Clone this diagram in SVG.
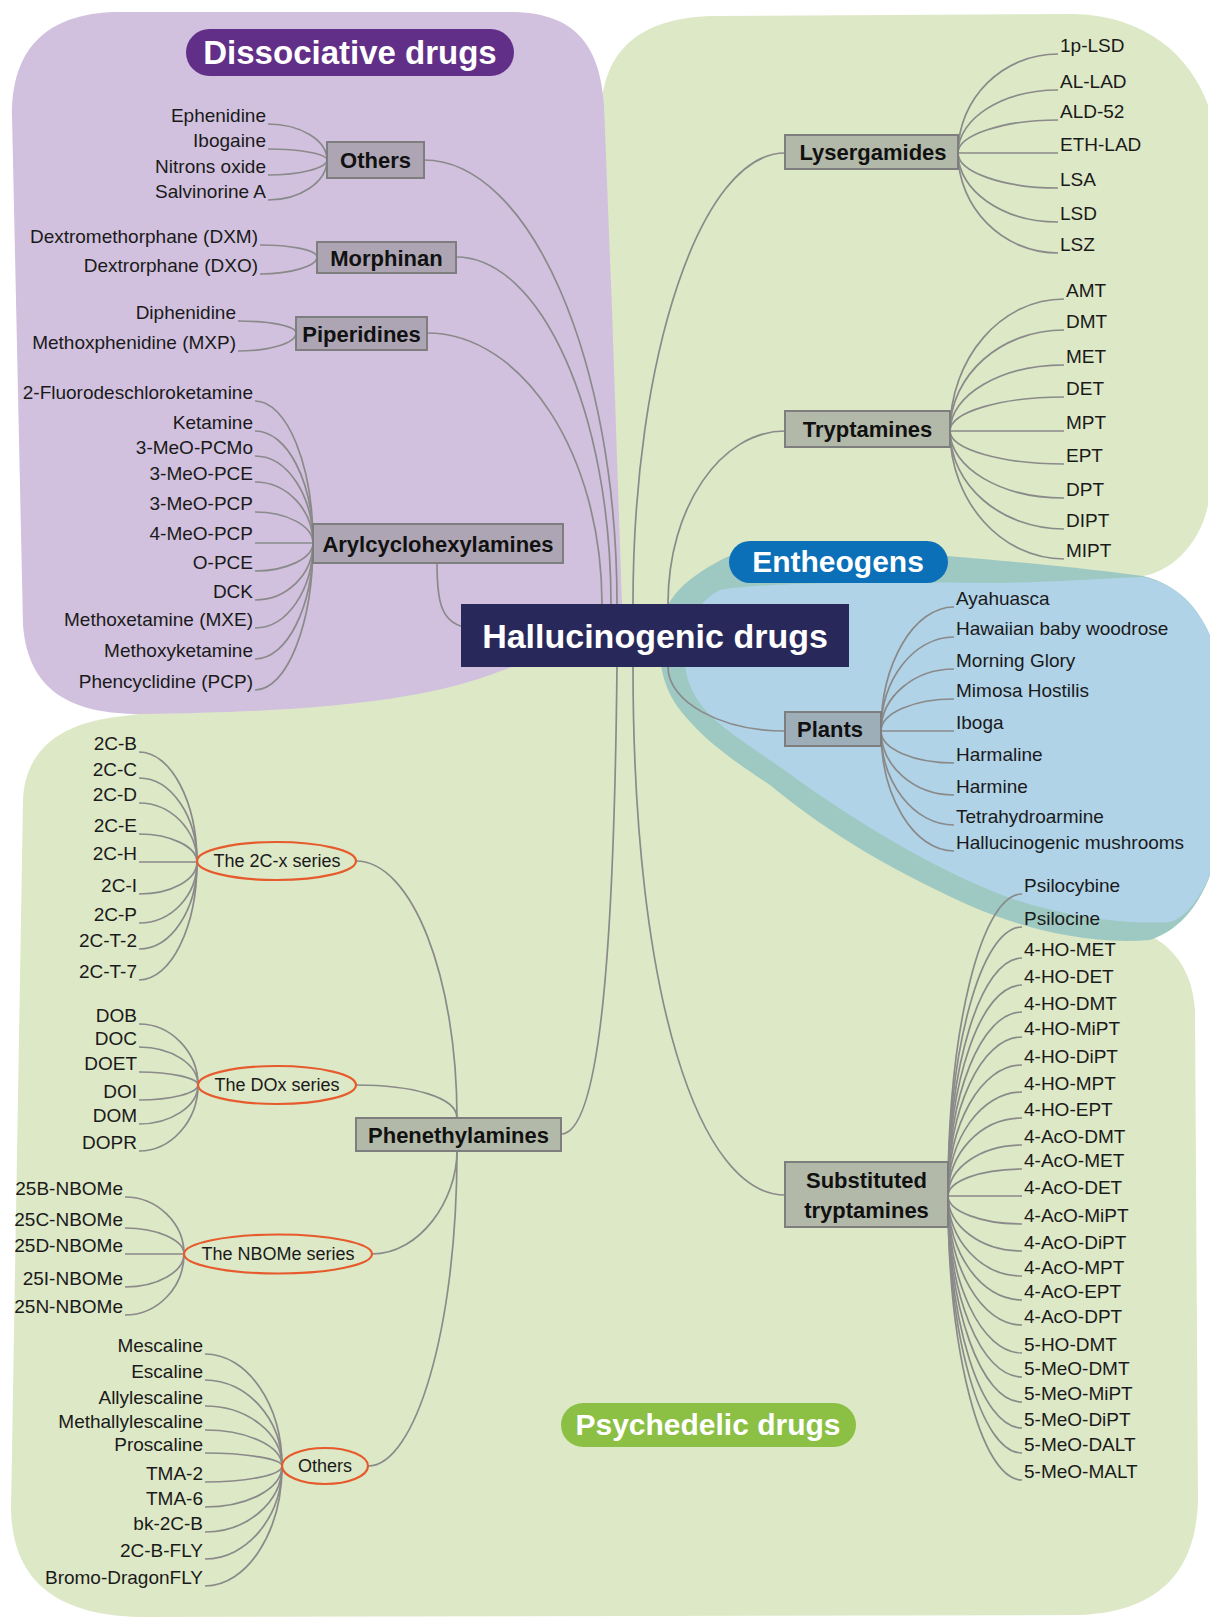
<svg xmlns="http://www.w3.org/2000/svg" width="1210" height="1619" viewBox="0 0 1210 1619">
<style>
.leaf{font-family:"Liberation Sans",Arial,sans-serif;font-size:19px;fill:#1a1a1a}
.end{text-anchor:end}
.cat{font-family:"Liberation Sans",Arial,sans-serif;font-size:22px;font-weight:bold;fill:#111;text-anchor:middle}
.sub{font-family:"Liberation Sans",Arial,sans-serif;font-size:18px;fill:#1a1a1a;text-anchor:middle}
.pill{font-family:"Liberation Sans",Arial,sans-serif;font-weight:bold;fill:#fff;text-anchor:middle}
.conn path{fill:none;stroke:#8a8a8a;stroke-width:1.7}
.box{fill:#8a8a8a;fill-opacity:0.5;stroke:#7e7e7e;stroke-width:2}
.ell{fill:none;stroke:#e65a2c;stroke-width:2.2}
</style>
<rect width="1210" height="1619" fill="#ffffff"/>
<g id="regions">
<path d="M601,118 C601,50 640,18 712,16 L1075,14 C1145,16 1190,55 1208,105 L1208,505 C1200,545 1170,572 1143,576 L1000,590 L1110,925 C1170,930 1193,970 1195,1010 L1198,1500 C1196,1580 1150,1612 1080,1615 L140,1617 C55,1615 13,1580 11,1510 L23,800 C25,750 60,722 124,716 L200,706 L400,680 L601,560 Z" fill="#dde8c6"/>
<path d="M12,115 C12,50 45,14 115,12 L515,12 C575,14 600,45 604,105 L612,310 L622,604 C590,640 545,655 490,675 C420,700 320,712 140,714 C70,714 28,690 23,625 Z" fill="#d1c1de"/>
<path d="M729,556 L948,556 C990,560 1060,565 1143,576 C1180,585 1200,610 1212,640 L1212,870 C1200,905 1180,930 1150,940 C1090,945 1030,930 980,910 C900,875 830,835 770,785 C720,752 700,735 680,710 C660,685 656,650 662,620 C668,595 690,575 729,556 Z" fill="#9ec9c2"/>
<path d="M720,590 C760,582 900,582 1000,583 C1060,582 1110,578 1143,577 C1180,585 1200,610 1212,640 L1212,870 C1200,900 1185,918 1170,922 C1120,925 1060,915 1010,898 C940,872 870,830 805,785 C760,752 730,735 710,715 C690,695 683,672 685,650 C688,620 700,600 720,590 Z" fill="#b0d3e8"/>
</g>
<g id="connectors" class="conn">
<path d="M424,160 C530,160 617,360 617,604"/>
<path d="M456,257 C541,257 611,413 611,604"/>
<path d="M427,333 C523,333 602,455 602,604"/>
<path d="M437,563 C437,600 440,625 470,628"/>
<path d="M633,604 C633,356 701,153 785,153"/>
<path d="M668,604 C668,507 721,431 785,431"/>
<path d="M668,667 C668,702 721,731 785,731"/>
<path d="M633,667 C633,1000 700,1195 785,1195"/>
<path d="M617,667 C614,950 600,1134 561,1134"/>
<path d="M356,861 C412,861 457,977 457,1118"/>
<path d="M356,1085 C412,1085 457,1097 457,1118"/>
<path d="M372,1254 C420,1254 457,1200 457,1151"/>
<path d="M368,1466 C415,1466 457,1330 457,1151"/>
<path d="M268,124 C300,124 327,140 327,160"/>
<path d="M268,149 C300,149 327,154 327,160"/>
<path d="M268,175 C300,175 327,168 327,160"/>
<path d="M268,200 C300,200 327,182 327,160"/>
<path d="M260,245 C291,245 317,250 317,257"/>
<path d="M260,274 C291,274 317,266 317,257"/>
<path d="M238,321 C270,321 296,326 296,333"/>
<path d="M238,351 C270,351 296,343 296,333"/>
<path d="M255,401 C287,401 313,465 313,543"/>
<path d="M255,431 C287,431 313,481 313,543"/>
<path d="M255,456 C287,456 313,495 313,543"/>
<path d="M255,482 C287,482 313,510 313,543"/>
<path d="M255,512 C287,512 313,526 313,543"/>
<path d="M255,543 L313,543"/>
<path d="M255,571 C287,571 313,558 313,543"/>
<path d="M255,600 C287,600 313,574 313,543"/>
<path d="M255,628 C287,628 313,590 313,543"/>
<path d="M255,659 C287,659 313,607 313,543"/>
<path d="M255,690 C287,690 313,624 313,543"/>
<path d="M958,153 C958,98 1003,54 1058,54"/>
<path d="M958,153 C958,118 1003,90 1058,90"/>
<path d="M958,153 C958,135 1003,120 1058,120"/>
<path d="M958,153 L1058,153"/>
<path d="M958,153 C958,172 1003,188 1058,188"/>
<path d="M958,153 C958,191 1003,222 1058,222"/>
<path d="M958,153 C958,208 1003,253 1058,253"/>
<path d="M950,431 C950,358 1001,299 1064,299"/>
<path d="M950,431 C950,375 1001,330 1064,330"/>
<path d="M950,431 C950,395 1001,365 1064,365"/>
<path d="M950,431 C950,412 1001,397 1064,397"/>
<path d="M950,431 L1064,431"/>
<path d="M950,431 C950,449 1001,464 1064,464"/>
<path d="M950,431 C950,468 1001,498 1064,498"/>
<path d="M950,431 C950,485 1001,529 1064,529"/>
<path d="M950,431 C950,501 1001,559 1064,559"/>
<path d="M881,731 C881,663 914,607 954,607"/>
<path d="M881,731 C881,679 914,637 954,637"/>
<path d="M881,731 C881,697 914,669 954,669"/>
<path d="M881,731 C881,713 914,699 954,699"/>
<path d="M881,731 L954,731"/>
<path d="M881,731 C881,749 914,763 954,763"/>
<path d="M881,731 C881,766 914,795 954,795"/>
<path d="M881,731 C881,783 914,825 954,825"/>
<path d="M881,731 C881,797 914,851 954,851"/>
<path d="M948,1196 C948,1030 981,894 1022,894"/>
<path d="M948,1196 C948,1048 981,927 1022,927"/>
<path d="M948,1196 C948,1065 981,958 1022,958"/>
<path d="M948,1196 C948,1080 981,985 1022,985"/>
<path d="M948,1196 C948,1095 981,1012 1022,1012"/>
<path d="M948,1196 C948,1109 981,1037 1022,1037"/>
<path d="M948,1196 C948,1124 981,1065 1022,1065"/>
<path d="M948,1196 C948,1139 981,1092 1022,1092"/>
<path d="M948,1196 C948,1153 981,1118 1022,1118"/>
<path d="M948,1196 C948,1168 981,1145 1022,1145"/>
<path d="M948,1196 C948,1181 981,1169 1022,1169"/>
<path d="M948,1196 L1022,1196"/>
<path d="M948,1196 C948,1211 981,1224 1022,1224"/>
<path d="M948,1196 C948,1226 981,1251 1022,1251"/>
<path d="M948,1196 C948,1240 981,1276 1022,1276"/>
<path d="M948,1196 C948,1253 981,1300 1022,1300"/>
<path d="M948,1196 C948,1267 981,1325 1022,1325"/>
<path d="M948,1196 C948,1282 981,1353 1022,1353"/>
<path d="M948,1196 C948,1296 981,1377 1022,1377"/>
<path d="M948,1196 C948,1309 981,1402 1022,1402"/>
<path d="M948,1196 C948,1324 981,1428 1022,1428"/>
<path d="M948,1196 C948,1337 981,1453 1022,1453"/>
<path d="M948,1196 C948,1352 981,1480 1022,1480"/>
<path d="M139,752 C171,752 197,802 197,862"/>
<path d="M139,778 C171,778 197,816 197,862"/>
<path d="M139,803 C171,803 197,830 197,862"/>
<path d="M139,834 C171,834 197,847 197,862"/>
<path d="M139,862 L197,862"/>
<path d="M139,894 C171,894 197,880 197,862"/>
<path d="M139,923 C171,923 197,896 197,862"/>
<path d="M139,949 C171,949 197,910 197,862"/>
<path d="M139,980 C171,980 197,927 197,862"/>
<path d="M139,1024 C171,1024 198,1052 198,1085"/>
<path d="M139,1047 C171,1047 198,1064 198,1085"/>
<path d="M139,1072 C171,1072 198,1078 198,1085"/>
<path d="M139,1100 C171,1100 198,1093 198,1085"/>
<path d="M139,1124 C171,1124 198,1106 198,1085"/>
<path d="M139,1151 C171,1151 198,1121 198,1085"/>
<path d="M125,1197 C157,1197 184,1223 184,1254"/>
<path d="M125,1228 C157,1228 184,1240 184,1254"/>
<path d="M125,1254 L184,1254"/>
<path d="M125,1287 C157,1287 184,1272 184,1254"/>
<path d="M125,1315 C157,1315 184,1288 184,1254"/>
<path d="M205,1354 C247,1354 282,1404 282,1466"/>
<path d="M205,1380 C247,1380 282,1419 282,1466"/>
<path d="M205,1406 C247,1406 282,1433 282,1466"/>
<path d="M205,1430 C247,1430 282,1446 282,1466"/>
<path d="M205,1453 C247,1453 282,1459 282,1466"/>
<path d="M205,1482 C247,1482 282,1475 282,1466"/>
<path d="M205,1507 C247,1507 282,1489 282,1466"/>
<path d="M205,1532 C247,1532 282,1502 282,1466"/>
<path d="M205,1559 C247,1559 282,1517 282,1466"/>
<path d="M205,1586 C247,1586 282,1532 282,1466"/>
</g>
<g id="label-dissociative">
<rect x="186" y="29" width="328" height="47" rx="23.5" fill="#622f88"/>
<text class="pill" x="350" y="64" font-size="33">Dissociative drugs</text>
</g>
<g id="label-entheogens">
<rect x="729" y="541" width="219" height="42" rx="21" fill="#0b70b8"/>
<text class="pill" x="838" y="572" font-size="30">Entheogens</text>
</g>
<g id="label-psychedelic">
<rect x="561" y="1403" width="295" height="44" rx="22" fill="#8cc045"/>
<text class="pill" x="708" y="1435" font-size="30">Psychedelic drugs</text>
</g>
<g id="center">
<rect x="461" y="604" width="388" height="63" fill="#29285a"/>
<text class="pill" x="655" y="648" font-size="34">Hallucinogenic drugs</text>
</g>
<g id="diss-others">
<rect class="box" x="327" y="142" width="97" height="36"/>
<text class="cat" x="375.5" y="168">Others</text>
<text class="leaf end" x="266" y="122">Ephenidine</text>
<text class="leaf end" x="266" y="147">Ibogaine</text>
<text class="leaf end" x="266" y="173">Nitrons oxide</text>
<text class="leaf end" x="266" y="198">Salvinorine A</text>
</g>
<g id="morphinan">
<rect class="box" x="317" y="242" width="139" height="31"/>
<text class="cat" x="386.5" y="265.5">Morphinan</text>
<text class="leaf end" x="258" y="243">Dextromethorphane (DXM)</text>
<text class="leaf end" x="258" y="272">Dextrorphane (DXO)</text>
</g>
<g id="piperidines">
<rect class="box" x="296" y="317" width="131" height="33"/>
<text class="cat" x="361.5" y="341.5">Piperidines</text>
<text class="leaf end" x="236" y="319">Diphenidine</text>
<text class="leaf end" x="236" y="349">Methoxphenidine (MXP)</text>
</g>
<g id="arylcyclohexylamines">
<rect class="box" x="313" y="524" width="250" height="39"/>
<text class="cat" x="438" y="551.5">Arylcyclohexylamines</text>
<text class="leaf end" x="253" y="399">2-Fluorodeschloroketamine</text>
<text class="leaf end" x="253" y="429">Ketamine</text>
<text class="leaf end" x="253" y="454">3-MeO-PCMo</text>
<text class="leaf end" x="253" y="480">3-MeO-PCE</text>
<text class="leaf end" x="253" y="510">3-MeO-PCP</text>
<text class="leaf end" x="253" y="540">4-MeO-PCP</text>
<text class="leaf end" x="253" y="569">O-PCE</text>
<text class="leaf end" x="253" y="598">DCK</text>
<text class="leaf end" x="253" y="626">Methoxetamine (MXE)</text>
<text class="leaf end" x="253" y="657">Methoxyketamine</text>
<text class="leaf end" x="253" y="688">Phencyclidine (PCP)</text>
</g>
<g id="lysergamides">
<rect class="box" x="785" y="135" width="173" height="34"/>
<text class="cat" x="873" y="160">Lysergamides</text>
<text class="leaf" x="1060" y="52">1p-LSD</text>
<text class="leaf" x="1060" y="88">AL-LAD</text>
<text class="leaf" x="1060" y="118">ALD-52</text>
<text class="leaf" x="1060" y="151">ETH-LAD</text>
<text class="leaf" x="1060" y="186">LSA</text>
<text class="leaf" x="1060" y="220">LSD</text>
<text class="leaf" x="1060" y="251">LSZ</text>
</g>
<g id="tryptamines">
<rect class="box" x="785" y="411" width="165" height="36"/>
<text class="cat" x="867.5" y="437">Tryptamines</text>
<text class="leaf" x="1066" y="297">AMT</text>
<text class="leaf" x="1066" y="328">DMT</text>
<text class="leaf" x="1066" y="363">MET</text>
<text class="leaf" x="1066" y="395">DET</text>
<text class="leaf" x="1066" y="429">MPT</text>
<text class="leaf" x="1066" y="462">EPT</text>
<text class="leaf" x="1066" y="496">DPT</text>
<text class="leaf" x="1066" y="527">DIPT</text>
<text class="leaf" x="1066" y="557">MIPT</text>
</g>
<g id="plants">
<rect class="box" x="785" y="712" width="96" height="34"/>
<text class="cat" x="830" y="737">Plants</text>
<text class="leaf" x="956" y="605">Ayahuasca</text>
<text class="leaf" x="956" y="635">Hawaiian baby woodrose</text>
<text class="leaf" x="956" y="667">Morning Glory</text>
<text class="leaf" x="956" y="697">Mimosa Hostilis</text>
<text class="leaf" x="956" y="729">Iboga</text>
<text class="leaf" x="956" y="761">Harmaline</text>
<text class="leaf" x="956" y="793">Harmine</text>
<text class="leaf" x="956" y="823">Tetrahydroarmine</text>
<text class="leaf" x="956" y="849">Hallucinogenic mushrooms</text>
</g>
<g id="substituted-tryptamines">
<rect class="box" x="785" y="1162" width="163" height="65"/>
<text class="cat" x="866.5" y="1188">Substituted</text>
<text class="cat" x="866.5" y="1218">tryptamines</text>
<text class="leaf" x="1024" y="892">Psilocybine</text>
<text class="leaf" x="1024" y="925">Psilocine</text>
<text class="leaf" x="1024" y="956">4-HO-MET</text>
<text class="leaf" x="1024" y="983">4-HO-DET</text>
<text class="leaf" x="1024" y="1010">4-HO-DMT</text>
<text class="leaf" x="1024" y="1035">4-HO-MiPT</text>
<text class="leaf" x="1024" y="1063">4-HO-DiPT</text>
<text class="leaf" x="1024" y="1090">4-HO-MPT</text>
<text class="leaf" x="1024" y="1116">4-HO-EPT</text>
<text class="leaf" x="1024" y="1143">4-AcO-DMT</text>
<text class="leaf" x="1024" y="1167">4-AcO-MET</text>
<text class="leaf" x="1024" y="1194">4-AcO-DET</text>
<text class="leaf" x="1024" y="1222">4-AcO-MiPT</text>
<text class="leaf" x="1024" y="1249">4-AcO-DiPT</text>
<text class="leaf" x="1024" y="1274">4-AcO-MPT</text>
<text class="leaf" x="1024" y="1298">4-AcO-EPT</text>
<text class="leaf" x="1024" y="1323">4-AcO-DPT</text>
<text class="leaf" x="1024" y="1351">5-HO-DMT</text>
<text class="leaf" x="1024" y="1375">5-MeO-DMT</text>
<text class="leaf" x="1024" y="1400">5-MeO-MiPT</text>
<text class="leaf" x="1024" y="1426">5-MeO-DiPT</text>
<text class="leaf" x="1024" y="1451">5-MeO-DALT</text>
<text class="leaf" x="1024" y="1478">5-MeO-MALT</text>
</g>
<g id="phenethylamines">
<rect class="box" x="356" y="1118" width="205" height="33"/>
<text class="cat" x="458.5" y="1142.5">Phenethylamines</text>
</g>
<g id="series-2cx">
<ellipse class="ell" cx="276.5" cy="861" rx="79.5" ry="19"/>
<text class="sub" x="277" y="867">The 2C-x series</text>
<text class="leaf end" x="137" y="750">2C-B</text>
<text class="leaf end" x="137" y="776">2C-C</text>
<text class="leaf end" x="137" y="801">2C-D</text>
<text class="leaf end" x="137" y="832">2C-E</text>
<text class="leaf end" x="137" y="860">2C-H</text>
<text class="leaf end" x="137" y="892">2C-I</text>
<text class="leaf end" x="137" y="921">2C-P</text>
<text class="leaf end" x="137" y="947">2C-T-2</text>
<text class="leaf end" x="137" y="978">2C-T-7</text>
</g>
<g id="series-dox">
<ellipse class="ell" cx="277" cy="1085" rx="79" ry="19"/>
<text class="sub" x="277" y="1091">The DOx series</text>
<text class="leaf end" x="137" y="1022">DOB</text>
<text class="leaf end" x="137" y="1045">DOC</text>
<text class="leaf end" x="137" y="1070">DOET</text>
<text class="leaf end" x="137" y="1098">DOI</text>
<text class="leaf end" x="137" y="1122">DOM</text>
<text class="leaf end" x="137" y="1149">DOPR</text>
</g>
<g id="series-nbome">
<ellipse class="ell" cx="278" cy="1254" rx="94" ry="19.5"/>
<text class="sub" x="278" y="1260">The NBOMe series</text>
<text class="leaf end" x="123" y="1195">25B-NBOMe</text>
<text class="leaf end" x="123" y="1226">25C-NBOMe</text>
<text class="leaf end" x="123" y="1252">25D-NBOMe</text>
<text class="leaf end" x="123" y="1285">25I-NBOMe</text>
<text class="leaf end" x="123" y="1313">25N-NBOMe</text>
</g>
<g id="phen-others">
<ellipse class="ell" cx="325" cy="1466" rx="43" ry="18"/>
<text class="sub" x="325" y="1472">Others</text>
<text class="leaf end" x="203" y="1352">Mescaline</text>
<text class="leaf end" x="203" y="1378">Escaline</text>
<text class="leaf end" x="203" y="1404">Allylescaline</text>
<text class="leaf end" x="203" y="1428">Methallylescaline</text>
<text class="leaf end" x="203" y="1451">Proscaline</text>
<text class="leaf end" x="203" y="1480">TMA-2</text>
<text class="leaf end" x="203" y="1505">TMA-6</text>
<text class="leaf end" x="203" y="1530">bk-2C-B</text>
<text class="leaf end" x="203" y="1557">2C-B-FLY</text>
<text class="leaf end" x="203" y="1584">Bromo-DragonFLY</text>
</g>
</svg>
